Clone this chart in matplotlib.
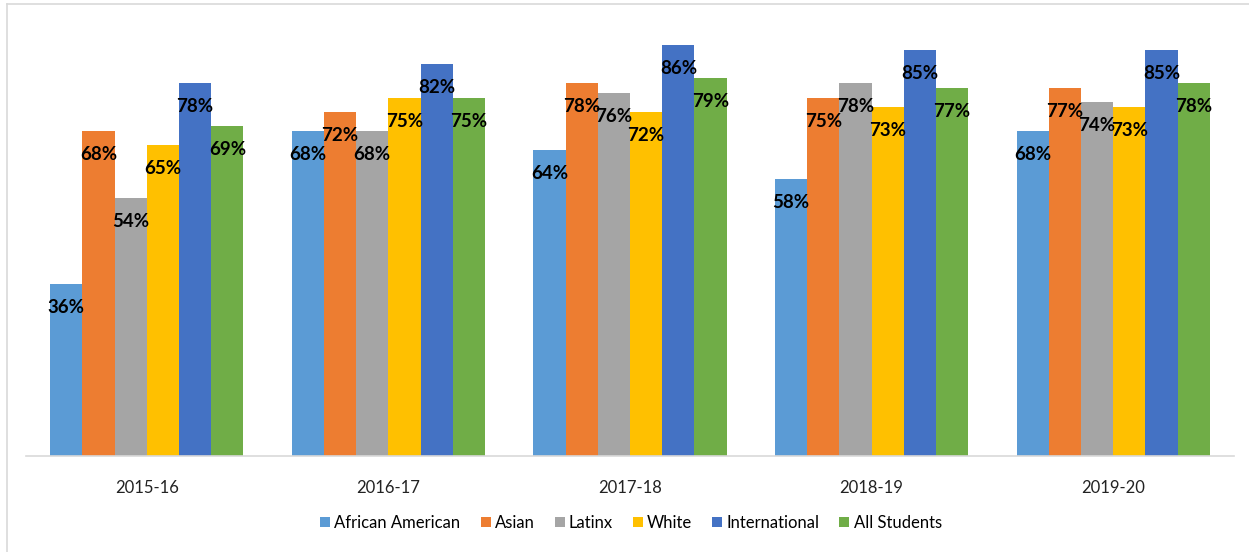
import matplotlib.pyplot as plt
import numpy as np

years = ['2015-16', '2016-17', '2017-18', '2018-19', '2019-20']
groups = ['African American', 'Asian', 'Latinx', 'White', 'International', 'All Students']
african_american = [36, 68, 64, 58, 68]
asian = [68, 72, 78, 75, 77]
latinx = [54, 68, 76, 78, 74]
white = [65, 75, 72, 73, 73]
international = [78, 82, 86, 85, 85]
all_students = [69, 75, 79, 77, 78]
series = [african_american, asian, latinx, white, international, all_students]
colors = ['#5B9BD5', '#ED7D31', '#A5A5A5', '#FFC000', '#4472C4', '#70AD47']

plt.rcParams['font.family'] = ['Lato', 'DejaVu Sans']

fig = plt.figure(figsize=(12.49, 5.52), dpi=100)
ax = fig.add_axes([26/1249, 96/552, 1208/1249, 430.2/552])

x = np.arange(len(years))
w = 0.8 / len(groups)
for i, (vals, c, name) in enumerate(zip(series, colors, groups)):
    pos = x - 0.4 + w * (i + 0.5)
    ax.bar(pos, vals, width=w, color=c, label=name, linewidth=0)
    for px, v in zip(pos, vals):
        ax.annotate('%d%%' % v, (px, v), xytext=(0, -17), textcoords='offset points',
                    ha='center', va='center', fontsize=13.5, fontweight='bold', color='black')

ax.set_xlim(-0.5, len(years) - 0.5)
ax.set_ylim(0, 90)
ax.set_xticks(x)
ax.set_xticklabels(years, fontsize=12, color='#222222')
ax.tick_params(axis='x', length=0, pad=17)
ax.set_yticks([])
for s in ['top', 'right', 'left']:
    ax.spines[s].set_visible(False)
ax.spines['bottom'].set_color('#D9D9D9')
ax.spines['bottom'].set_linewidth(1.2)

leg = fig.legend(loc='center', bbox_to_anchor=(631/1249, 1 - 523/552), ncol=6, frameon=False,
                 fontsize=12, handlelength=0.6, handleheight=0.6, handletextpad=0.25,
                 columnspacing=1.2)

# outer frame lines (top and left)
fig.add_artist(plt.Line2D([7/1249, 1], [1 - 4/552, 1 - 4/552], color='#D9D9D9', linewidth=1.2))
fig.add_artist(plt.Line2D([7/1249, 7/1249], [0, 1 - 4/552], color='#D9D9D9', linewidth=1.2))

fig.savefig('out.png', dpi=100)
